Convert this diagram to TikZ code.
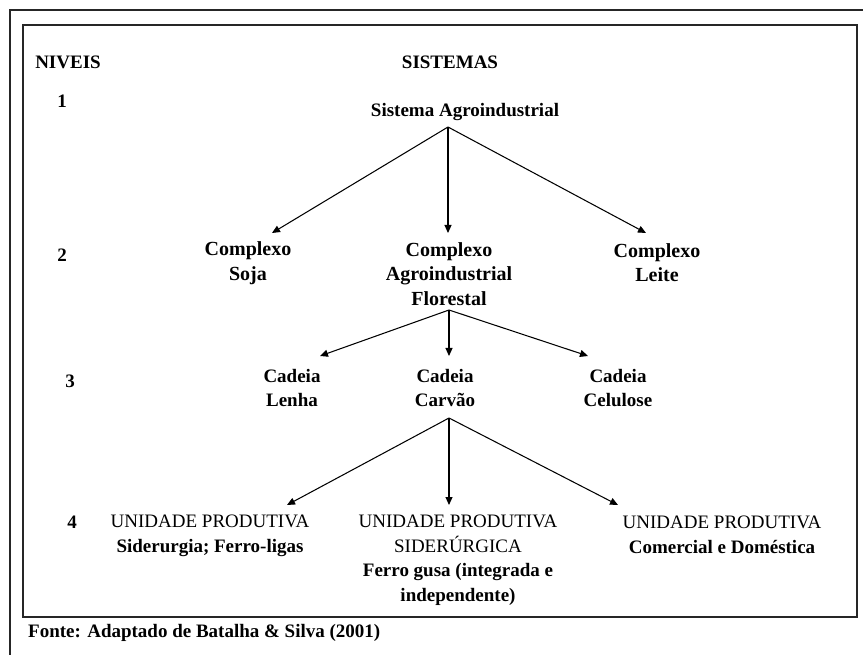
\documentclass[tikz,border=0pt]{standalone}
\usepackage{fontspec}
\setmainfont{Liberation Serif}
\usetikzlibrary{arrows.meta}
\begin{document}
\begin{tikzpicture}[x=1pt,y=-1pt,
  lbl/.style={font=\bfseries\fontsize{19}{24.5}\selectfont, align=center, inner sep=0pt},
  lbltwo/.style={lbl, font=\bfseries\fontsize{20}{24.5}\selectfont},
  hdr/.style={font=\bfseries\fontsize{19}{24}\selectfont, inner sep=0pt},
  arr/.style={line width=1.05pt, -{Triangle[length=8pt,width=7pt]}},
  frame/.style={line width=1.4pt, draw=black!85}]
\useasboundingbox (0,0) rectangle (863,655);
\fill[white] (0,0) rectangle (863,655);
% frames
\draw[frame, line width=1.2pt] (10,655) -- (10,10) -- (863,10);
\draw[frame] (23,25) rectangle (857,617);
% headers and level numbers
\node[hdr] (niveis) at (68,62) {NIVEIS};
\node[hdr] (sistemas) at (450,62) {SISTEMAS};
\node[hdr] (n1) at (62,101) {1};
\node[hdr] (n2) at (62,255) {2};
\node[hdr] (n3) at (70,381) {3};
\node[hdr] (n4) at (72,522) {4};
% level 1
\node[lbl] (sa) at (465,112) {Sistema Agroindustrial};
% level 2
\node[lbltwo] (soja) at (248,263) {Complexo\\Soja};
\node[lbltwo] (flor) at (449,274) {Complexo\\Agroindustrial\\Florestal};
\node[lbltwo] (leite) at (657,262.5) {Complexo\\Leite};
% level 3
\node[lbl] (lenha) at (292,388) {Cadeia\\Lenha};
\node[lbl] (carvao) at (445,388) {Cadeia\\Carvão};
\node[lbl] (celul) at (618,388) {Cadeia\\Celulose};
% level 4
\node[lbl] (up1) at (210,536) {{\mdseries UNIDADE PRODUTIVA}\\Siderurgia; Ferro-ligas};
\node[lbl] (up2) at (458,560) {{\mdseries UNIDADE PRODUTIVA}\\{\mdseries SIDERÚRGICA}\\Ferro gusa (integrada e\\independente)};
\node[lbl] (up3) at (722,535) {{\mdseries UNIDADE PRODUTIVA}\\Comercial e Doméstica};
% source
\node[hdr, anchor=west] (fonte) at (28,633) {Fonte: Adaptado de Batalha \& Silva (2001)};
% connector coordinates
\coordinate (a1) at (448,127);
\coordinate (t1a) at (272,233);
\coordinate (t1b) at (448,233);
\coordinate (t1c) at (646,233);
\coordinate (a2) at (449,310);
\coordinate (t2a) at (320,356);
\coordinate (t2b) at (449,356);
\coordinate (t2c) at (588,356);
\coordinate (a3) at (449,418);
\coordinate (t3a) at (287,505);
\coordinate (t3b) at (449,505);
\coordinate (t3c) at (618,505);
\draw[arr] (a1) -- (t1a);
\draw[arr] (a1) -- (t1b);
\draw[arr] (a1) -- (t1c);
\draw[arr] (a2) -- (t2a);
\draw[arr] (a2) -- (t2b);
\draw[arr] (a2) -- (t2c);
\draw[arr] (a3) -- (t3a);
\draw[arr] (a3) -- (t3b);
\draw[arr] (a3) -- (t3c);
\end{tikzpicture}
\end{document}
